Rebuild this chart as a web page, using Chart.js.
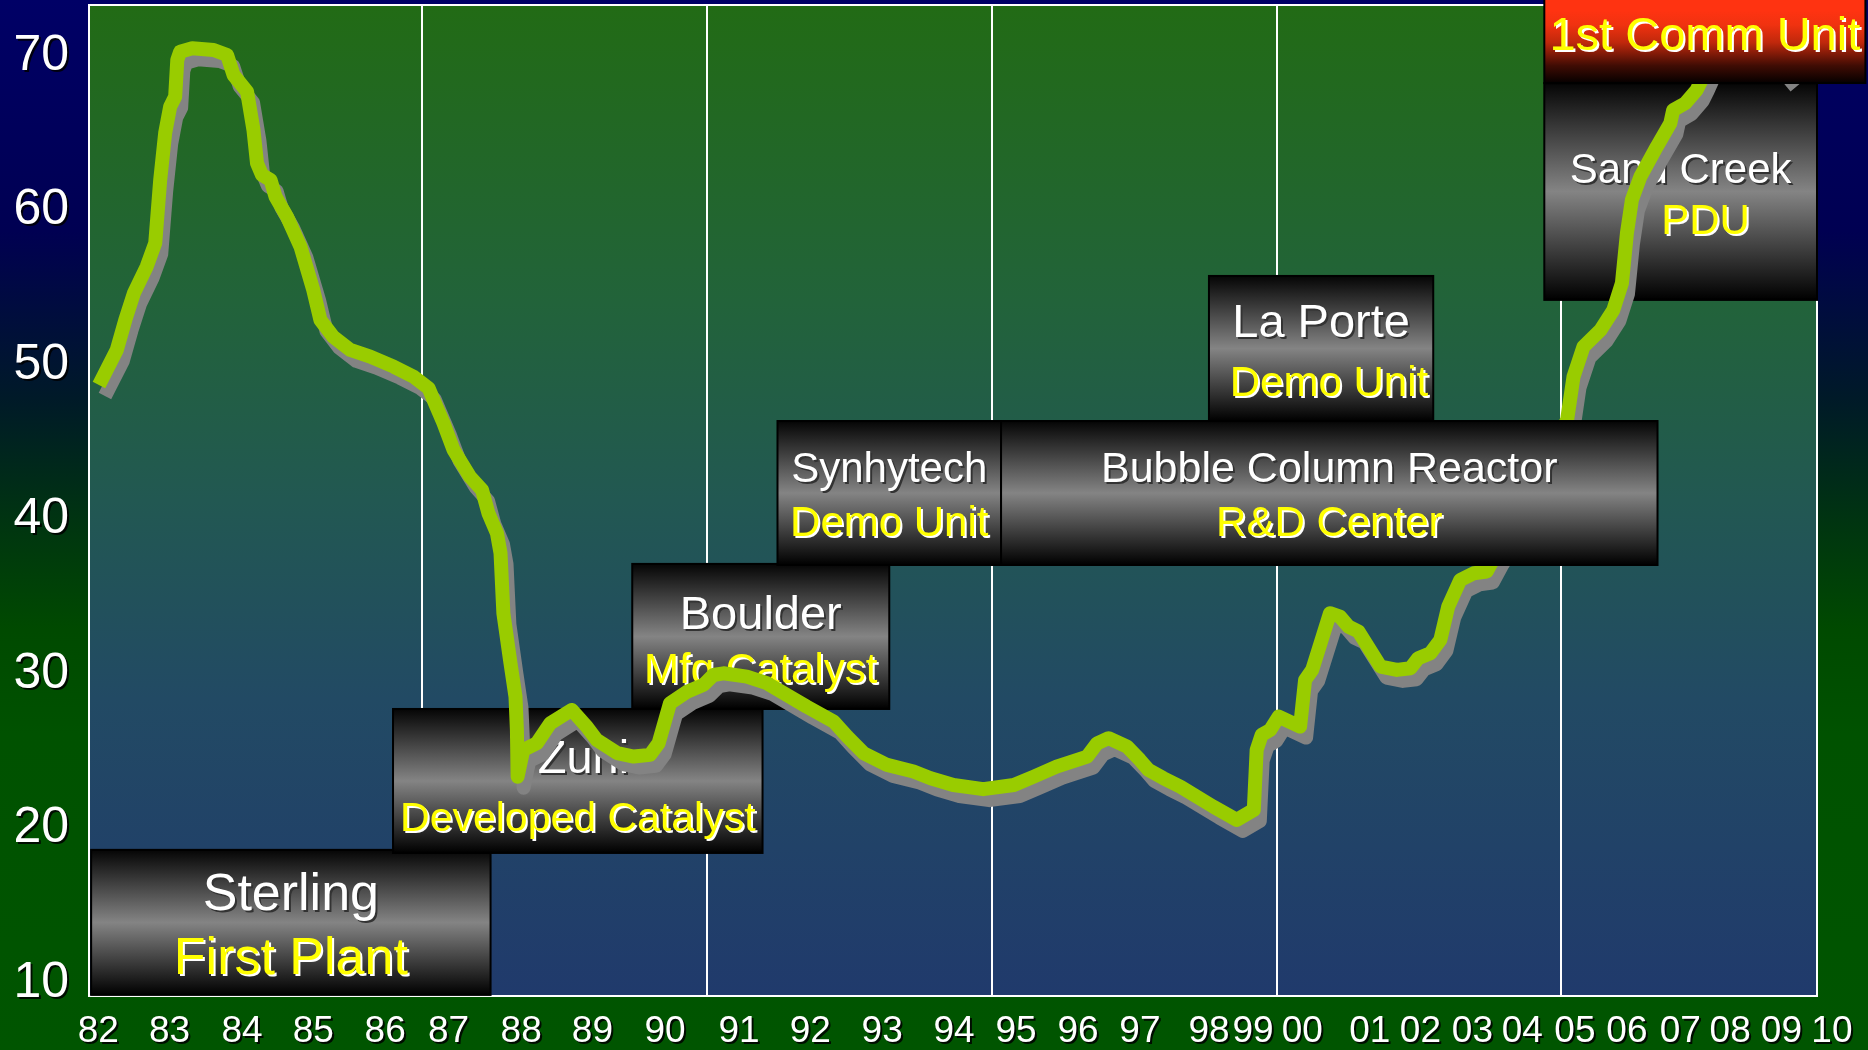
<!DOCTYPE html>
<html>
<head>
<meta charset="utf-8">
<script src="https://cdn.jsdelivr.net/npm/chart.js@4.4.1/dist/chart.umd.min.js"></script>
<style>html,body{margin:0;padding:0;background:#000;overflow:hidden}canvas{display:block}</style>
</head>
<body>
<canvas id="c" width="1868" height="1050"></canvas>
<script>
// ---------- data ----------
const years = [1982.46,1982.71,1982.83,1982.95,1983.13,1983.25,1983.32,1983.39,1983.46,1983.53,
1983.56,1983.60,1983.77,1984.07,1984.26,1984.35,1984.54,1984.63,1984.68,1984.75,
1984.87,1984.94,1985.10,1985.29,1985.47,1985.57,1985.75,1985.99,1986.27,1986.60,
1986.88,1987.09,1987.16,1987.30,1987.44,1987.67,1987.84,1987.93,1988.05,1988.10,
1988.14,1988.24,1988.31,1988.33,1988.34,1988.42,1988.61,1988.80,1989.10,1989.31,
1989.45,1989.74,1989.97,1990.20,1990.32,1990.48,1990.72,1990.95,1991.09,1991.23,
1991.56,1991.84,1992.40,1992.78,1992.97,1993.20,1993.53,1993.90,1994.14,1994.46,
1994.88,1995.31,1995.59,1995.91,1996.34,1996.48,1996.64,1996.90,1997.08,1997.20,
1997.41,1997.65,1998.11,1998.44,1998.68,1998.72,1998.79,1998.91,1999.03,1999.33,
1999.40,1999.50,1999.75,1999.89,2000.01,2000.15,2000.46,2000.69,2000.88,2000.99,
2001.16,2001.30,2001.41,2001.58,2001.77,2001.95,2002.09,2002.42,2002.77,2003.08,
2003.17,2003.31,2003.55,2003.73,2003.85,2003.92,2003.99,2004.11,2004.34,2004.53,
2004.57,2004.74,2004.90,2004.97,2005.16,2005.58,2005.93,2006.21];

const values = [48.70,50.97,52.91,54.64,56.36,57.88,61.97,65.02,66.72,67.36,
69.74,70.28,70.50,70.39,70.06,68.77,67.69,65.21,63.05,62.30,
61.97,60.89,59.60,57.66,54.85,52.91,51.83,50.97,50.54,49.89,
49.24,48.49,47.73,46.23,44.50,42.77,41.91,40.40,39.11,37.81,
33.93,30.69,28.53,26.37,23.35,25.08,25.51,26.81,27.67,26.59,
25.73,24.87,24.65,24.76,25.51,28.10,28.85,29.29,29.93,30.04,
29.82,29.40,27.88,26.91,25.94,24.87,24.11,23.68,23.25,22.81,
22.54,22.81,23.35,24.00,24.65,25.51,25.84,25.29,24.43,23.79,
23.25,22.70,21.41,20.55,21.20,25.08,26.05,26.37,27.24,26.59,
29.61,30.26,33.93,33.71,33.06,32.74,30.47,30.26,30.37,31.02,
31.34,32.20,34.35,36.08,36.52,36.62,37.81,40.29,43.53,46.44,
49.24,51.18,52.26,53.56,55.29,58.52,60.68,62.19,64.13,65.64,
66.50,66.94,67.80,68.45,70.39,71.16,70.26,68.70];

const yTicks = [10,20,30,40,50,60,70];
const xLabels = ['82','83','84','85','86','87','88','89','90','91','92','93','94','95','96','97','98','99','00','01','02','03','04','05','06','07','08','09','10'];
const xLabelPos = [1982.45,1983.45,1984.47,1985.47,1986.48,1987.37,1988.39,1989.39,1990.41,1991.45,1992.45,1993.46,1994.47,1995.34,1996.21,1997.08,1998.05,1998.67,1999.36,2000.31,2001.02,2001.75,2002.45,2003.19,2003.92,2004.67,2005.37,2006.09,2006.80];
const gridYears = [1987,1991,1995,1999,2003];

const X_MIN = 1982.32, X_MAX = 2006.59, Y_MIN = 9.15, Y_MAX = 73.3;

// ---------- annotation boxes (data units) ----------
const WHITE = '#FFFFFF', YELLOW = '#FFFF00';
const GRAY_GRAD = [[0,'#050505'],[0.5,'#848484'],[1,'#000000']];
const RED_GRAD = [[0,'#FF3311'],[0.5,'#FF3311'],[0.6,'#F03210'],[0.72,'#C0280C'],[0.88,'#400C04'],[1,'#050000']];
const boxes = [
  {layer:'under', x0:1982.35, x1:1987.96, y0:18.61, y1:9.22, grad:GRAY_GRAD,
   lines:[{t:'Sterling',c:WHITE,s:52,y:15.95},{t:'First Plant',c:YELLOW,s:52,y:11.81}]},
  {layer:'under', x0:1986.59, x1:1991.78, y0:27.73, y1:18.41, grad:GRAY_GRAD,
   lines:[{t:'Zuni',c:WHITE,s:47,y:24.69,dx:0.08},{t:'Developed Catalyst',c:YELLOW,s:41,y:20.81}]},
  {layer:'under', x0:1989.95, x1:1993.56, y0:37.12, y1:27.73, grad:GRAY_GRAD,
   lines:[{t:'Boulder',c:WHITE,s:47,y:34.01},{t:'Mfg Catalyst',c:YELLOW,s:42,y:30.39}]},
  {layer:'under', x0:1991.99, x1:1995.13, y0:46.37, y1:37.05, grad:GRAY_GRAD,
   lines:[{t:'Synhytech',c:WHITE,s:42,y:43.40},{t:'Demo Unit',c:YELLOW,s:42,y:39.90}]},
  {layer:'under', x0:1998.05, x1:2001.20, y0:55.76, y1:46.37, grad:GRAY_GRAD,
   lines:[{t:'La Porte',c:WHITE,s:47,y:52.91},{t:'Demo Unit',c:YELLOW,s:42,y:48.96,dx:0.11}]},
  {layer:'under', x0:2002.76, x1:2006.59, y0:68.25, y1:54.21, grad:GRAY_GRAD,
   lines:[{t:'Sand Creek',c:WHITE,s:42,y:62.75},{t:'PDU',c:YELLOW,s:42,y:59.45,dx:0.35}]},
  {layer:'over', x0:1995.13, x1:2004.35, y0:46.37, y1:37.05, grad:GRAY_GRAD,
   lines:[{t:'Bubble Column Reactor',c:WHITE,s:43,y:43.40},{t:'R&D Center',c:YELLOW,s:42,y:39.90}]},
  {layer:'over', x0:2002.76, x1:2007.27, y0:77.64, y1:68.25, grad:RED_GRAD,
   lines:[{t:'1st Comm Unit',c:YELLOW,s:47,y:71.49}]}
];

const FONT = "'Liberation Sans', Arial, Helvetica, sans-serif";
Chart.defaults.font.family = FONT;

function drawBox(chart, b){
  const ctx = chart.ctx, xs = chart.scales.x, ys = chart.scales.y;
  const L = xs.getPixelForValue(b.x0), R = xs.getPixelForValue(b.x1);
  const T = ys.getPixelForValue(b.y0), B = ys.getPixelForValue(b.y1);
  ctx.save();
  const g = ctx.createLinearGradient(0, T, 0, B);
  b.grad.forEach(([o,c]) => g.addColorStop(o,c));
  ctx.fillStyle = g;
  ctx.fillRect(L, T, R-L, B-T);
  ctx.lineWidth = 2; ctx.strokeStyle = '#000';
  ctx.strokeRect(L, T, R-L, B-T);
  ctx.textAlign = 'center'; ctx.textBaseline = 'alphabetic';
  for (const ln of b.lines){
    const cx = xs.getPixelForValue((b.x0+b.x1)/2 + (ln.dx||0));
    const base = ys.getPixelForValue(ln.y) + 0.358*ln.s;
    ctx.font = ln.s + 'px ' + FONT;
    ctx.fillStyle = ln.c === YELLOW ? '#FFFFFF' : '#333333';
    ctx.fillText(ln.t, cx+2, base+2);
    ctx.fillStyle = ln.c;
    ctx.fillText(ln.t, cx, base);
  }
  ctx.restore();
}

function noPad(s){ s.paddingTop = 0; s.paddingBottom = 0; s.paddingLeft = 0; s.paddingRight = 0; }

const decor = {
  id:'decor',
  beforeDraw(chart){
    const ctx = chart.ctx, W = chart.width, H = chart.height, a = chart.chartArea;
    ctx.save();
    const og = ctx.createLinearGradient(0,0,0,H);
    og.addColorStop(0,'#000066'); og.addColorStop(0.22,'#000052');
    og.addColorStop(0.38,'#001A28'); og.addColorStop(0.5,'#003510');
    og.addColorStop(0.6,'#004A00'); og.addColorStop(0.7,'#005200');
    og.addColorStop(1,'#005500');
    ctx.fillStyle = og; ctx.fillRect(0,0,W,H);
    const pg = ctx.createLinearGradient(0,a.top,0,a.bottom);
    pg.addColorStop(0,'#226B15'); pg.addColorStop(0.3,'#22633A');
    pg.addColorStop(0.5,'#225852'); pg.addColorStop(0.7,'#224A64');
    pg.addColorStop(1,'#203A6C');
    ctx.fillStyle = pg; ctx.fillRect(a.left,a.top,a.right-a.left,a.bottom-a.top);
    ctx.restore();
    ['y','xLab'].forEach(id => {
      const s = chart.scales[id];
      if (s && !s._shPatched){
        const orig = s.drawLabels.bind(s);
        s.drawLabels = function(area){
          const c = this.ctx; c.save();
          c.shadowColor = 'rgba(0,0,0,0.85)'; c.shadowOffsetX = 2; c.shadowOffsetY = 2; c.shadowBlur = 0;
          orig(area); c.restore();
        };
        s._shPatched = true;
      }
    });
  },
  beforeDatasetsDraw(chart){
    const ctx = chart.ctx, a = chart.chartArea;
    ctx.save();
    ctx.strokeStyle = '#FFFFFF'; ctx.lineWidth = 2;
    ctx.strokeRect(a.left, a.top, a.right-a.left, a.bottom-a.top);
    ctx.restore();
    boxes.filter(b => b.layer==='under').forEach(b => drawBox(chart,b));
  },
  beforeDatasetDraw(chart){
    const ctx = chart.ctx;
    ctx.save();
    ctx.shadowColor = '#838383'; ctx.shadowOffsetX = 6; ctx.shadowOffsetY = 11; ctx.shadowBlur = 0;
  },
  afterDatasetDraw(chart){ chart.ctx.restore(); },
  afterDatasetsDraw(chart){
    boxes.filter(b => b.layer==='over').forEach(b => drawBox(chart,b));
  }
};

new Chart(document.getElementById('c'), {
  type:'line',
  data:{ datasets:[{
    data: years.map((x,i) => ({x, y: values[i]})),
    borderColor:'#99CC00', borderWidth:14, pointRadius:0, tension:0,
    borderJoinStyle:'round', borderCapStyle:'butt', fill:false
  }]},
  options:{
    responsive:false, animation:false, devicePixelRatio:1,
    layout:{ padding:{ top:5, right:51, left:0, bottom:0 } },
    plugins:{ legend:{display:false}, tooltip:{enabled:false} },
    scales:{
      x:{ type:'linear', position:'bottom', min:X_MIN, max:X_MAX,
          afterBuildTicks: s => { s.ticks = gridYears.map(v => ({value:v})); },
          ticks:{ display:false }, border:{ display:false },
          grid:{ color:'#FFFFFF', lineWidth:2, drawTicks:false },
          afterFit: s => { s.height = 0; noPad(s); } },
      xLab:{ type:'linear', axis:'x', position:'bottom', min:X_MIN, max:X_MAX,
          afterBuildTicks: s => { s.ticks = xLabelPos.map(v => ({value:v})); },
          ticks:{ color:'#FFFFFF', font:{size:37}, padding:14, autoSkip:false, maxRotation:0, minRotation:0,
                  callback:(v,i) => xLabels[i] },
          grid:{ display:false, drawTicks:false }, border:{ display:false },
          afterFit: s => { s.height = 54; noPad(s); } },
      y:{ type:'linear', position:'left', min:Y_MIN, max:Y_MAX,
          afterBuildTicks: s => { s.ticks = yTicks.map(v => ({value:v})); },
          ticks:{ color:'#FFFFFF', font:{size:50}, padding:20 },
          grid:{ display:false, drawTicks:false }, border:{ display:false },
          afterFit: s => { s.width = 89; noPad(s); } }
    }
  },
  plugins:[decor]
});
</script>
</body>
</html>
